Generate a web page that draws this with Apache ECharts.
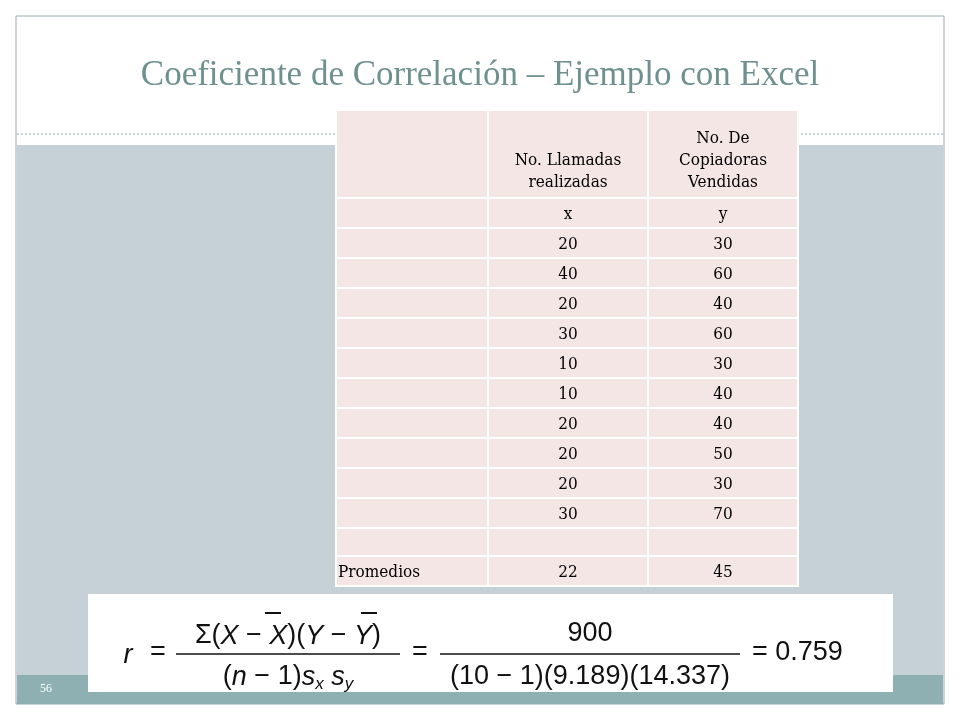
<!DOCTYPE html>
<html><head><meta charset="utf-8">
<script src="https://cdn.jsdelivr.net/npm/echarts@6/dist/echarts.min.js"></script>
<style>html,body{margin:0;padding:0;background:#fff}#c{width:960px;height:720px}</style>
</head><body><div id="c"></div>
<script>
const title = 'Coeficiente de Correlación – Ejemplo con Excel';
const headers = ['', 'No. Llamadas\nrealizadas', 'No. De\nCopiadoras\nVendidas'];
const subHeaders = ['', 'x', 'y'];
const xValues = [20, 40, 20, 30, 10, 10, 20, 20, 20, 30];
const yValues = [30, 60, 40, 60, 30, 40, 40, 50, 30, 70];
const averages = ['Promedios', '22', '45'];
const pageNumber = '56';

const chart = echarts.init(document.getElementById('c'));
const colX = [336, 488, 648, 798];
const g = [];
// slide background
g.push({type:'rect', shape:{x:16,y:16,width:928,height:688}, style:{fill:'#fff', stroke:'#9aa8ad', lineWidth:1}});
g.push({type:'rect', shape:{x:17,y:145,width:926,height:530}, style:{fill:'#c5d1d7'}});
g.push({type:'rect', shape:{x:17,y:675,width:926,height:29}, style:{fill:'#8fb0b2'}});
g.push({type:'line', shape:{x1:17,y1:134,x2:943,y2:134}, style:{stroke:'#9aa8ad', lineDash:[2,2], lineWidth:1}});
g.push({type:'text', style:{text:title, x:480, y:76, align:'center', verticalAlign:'middle', font:'35px "Liberation Serif"', fill:'#6e9190'}});
g.push({type:'text', style:{text:pageNumber, x:46, y:689, align:'center', verticalAlign:'middle', font:'12px "Liberation Serif"', fill:'#fff'}});
// table rows
const rows = [{h:88, cells:headers, va:'bottom'}, {h:30, cells:subHeaders}];
xValues.forEach((v,i)=>rows.push({h:30, cells:['', String(v), String(yValues[i])]}));
rows.push({h:28, cells:['','','']});
rows.push({h:30, cells:averages});
let y = 110;
rows.forEach(r=>{
  for (let c=0;c<3;c++){
    const x0=colX[c], w=colX[c+1]-colX[c];
    g.push({type:'rect', shape:{x:x0,y:y,width:w,height:r.h}, style:{fill:'#f5e6e6', stroke:'#ffffff', lineWidth:2}});
    if (r.cells[c]!=='') {
      const isLabel = (c===0);
      g.push({type:'text', style:{text:r.cells[c], x:isLabel? x0+2 : x0+w/2, y: r.va==='bottom'? y+r.h-4 : y+r.h/2+2,
        align:isLabel?'left':'center', verticalAlign:r.va==='bottom'?'bottom':'middle', lineHeight:22,
        font:'17px "DejaVu Serif Condensed", "Liberation Serif"', fill:'#000'}});
    }
  }
  y += r.h;
});
// formula box
g.push({type:'rect', shape:{x:88,y:594,width:805,height:98}, style:{fill:'#fff'}});
const F = '27px "Liberation Sans"';
const FI = 'italic 27px "Liberation Sans"';
const txt=(t,x,yy,font,al)=>g.push({type:'text', style:{text:t,x:x,y:yy,align:al||'center',verticalAlign:'middle',font:font||F,fill:'#111'}});
txt('r', 128, 655, FI);
txt('=', 158, 653);
g.push({type:'text', style:{x:288,y:636,align:'center',verticalAlign:'middle',
  text:'{n|Σ(}{i|X}{n| − }{i|X}{n|)(}{i|Y}{n| − }{i|Y}{n|)}', rich:{n:{font:F,fill:'#111'},i:{font:FI,fill:'#111'}}}});
g.push({type:'line', shape:{x1:265,y1:613,x2:281,y2:613}, style:{stroke:'#111',lineWidth:2}});
g.push({type:'line', shape:{x1:361,y1:613,x2:377,y2:613}, style:{stroke:'#111',lineWidth:2}});
g.push({type:'line', shape:{x1:176,y1:654,x2:400,y2:654}, style:{stroke:'#111',lineWidth:1.5}});
g.push({type:'text', style:{x:288,y:677,align:'center',verticalAlign:'middle',
  text:'{n|(}{i|n}{n| − 1)}{i|s}{s|x}{n| }{i|s}{s|y}', rich:{n:{font:F,fill:'#111'},i:{font:FI,fill:'#111'},s:{font:'italic 17px "Liberation Sans"',fill:'#111',padding:[14,0,0,0]}}}});
txt('=', 420, 653);
txt('900', 590, 634);
g.push({type:'line', shape:{x1:440,y1:654,x2:740,y2:654}, style:{stroke:'#111',lineWidth:1.5}});
txt('(10 − 1)(9.189)(14.337)', 590, 677);
txt('= 0.759', 752, 653, F, 'left');

chart.setOption({animation:false, graphic:{elements:g}});
</script></body></html>
